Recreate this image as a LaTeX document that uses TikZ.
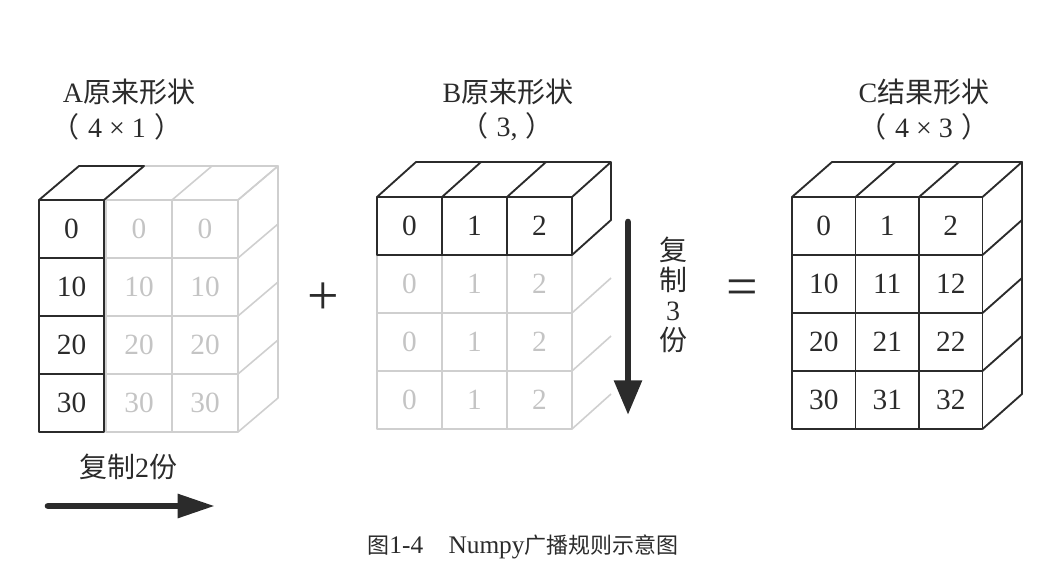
\documentclass[tikz,border=0pt]{standalone}
\usepackage{fontspec}
\setmainfont{Liberation Serif}
\newfontfamily\cjk{Noto Sans CJK SC}
\usetikzlibrary{arrows.meta}
\definecolor{inkblack}{HTML}{2B2B2B}
\definecolor{ghost}{HTML}{CFCFCF}
\definecolor{ghosttext}{HTML}{C4C4C4}
\tikzset{
        solid face/.style={draw=inkblack, line width=1.4pt, line join=round},
        ghost face/.style={draw=ghost, line width=1.2pt, line join=round},
        num/.style={font=\fontsize{22}{22}\selectfont, text=inkblack},
        ghost num/.style={num, text=ghosttext},
        title/.style={font=\fontsize{21}{22.5}\selectfont, text=inkblack},
        big arrow/.style={draw=inkblack, line width=5pt, line cap=round},
}
\begin{document}
\begin{tikzpicture}[x=0.75pt, y=-0.75pt]
        \useasboundingbox (0,0) rectangle (1059,563);

        % A (4x1), copied twice
        \foreach \c in {1,2} {
                \foreach \r in {0,1,2,3} {
                        \draw[ghost face] (40+66*\c,200+58*\r) rectangle ++(66,58);
                }
        }
        \draw[ghost face] (104,200) -- (144,166) -- (278,166) -- (238,200);
        \draw[ghost face] (172,200) -- (212,166);
        \draw[ghost face] (238,200) -- (278,166) -- (278,398) -- (238,432);
        \foreach \r in {1,2,3} {
                \draw[ghost face] (238,200+58*\r) -- ++(40,-34);
        }
        \foreach \r in {0,1,2,3} {
                \draw[solid face] (39,200+58*\r) rectangle ++(65,58);
        }
        \draw[solid face] (39,200) -- (79,166) -- (144,166) -- (104,200);
        \foreach \r/\v in {0/0,1/10,2/20,3/30} {
                \node[num] (a-\r-0) at (71.5,229+58*\r) {\v};
                \node[ghost num] (a-\r-1) at (139,229+58*\r) {\v};
                \node[ghost num] (a-\r-2) at (205,229+58*\r) {\v};
        }

        % B (3,), copied three times
        \foreach \c in {0,1,2} {
                \foreach \r in {1,2,3} {
                        \draw[ghost face] (377+65*\c,197+58*\r) rectangle ++(65,58);
                }
        }
        \foreach \r in {2,3,4} {
                \draw[ghost face] (572,197+58*\r) -- ++(39,-35);
        }
        \foreach \c in {0,1,2} {
                \draw[solid face] (377+65*\c,197) rectangle ++(65,58);
        }
        \draw[solid face] (377,197) -- (416,162) -- (611,162) -- (611,220) -- (572,255);
        \draw[solid face] (442,197) -- (481,162) (507,197) -- (546,162) (572,197) -- (611,162);
        \foreach \c in {0,1,2} {
                \node[num] (b-0-\c) at (409.5+65*\c,226) {\c};
                \foreach \r in {1,2,3} {
                        \node[ghost num] (b-\r-\c) at (409.5+65*\c,226+58*\r) {\c};
                }
        }

        % C (4x3)
        \foreach \c in {0,1,2} {
                \foreach \r in {0,1,2,3} {
                        \draw[solid face] (792+63.5*\c,197+58*\r) rectangle ++(63.5,58);
                        \pgfmathtruncatemacro\v{10*\r+\c}
                        \node[num] (c-\r-\c) at (823.75+63.5*\c,226+58*\r) {\v};
                }
        }
        \draw[solid face] (792,197) -- (832,162) -- (1022,162) -- (982.5,197);
        \draw[solid face] (855.5,197) -- (895.5,162) (919,197) -- (959,162);
        \draw[solid face] (1022,162) -- (1022,394) -- (982.5,429);
        \foreach \r in {1,2,3} {
                \draw[solid face] (982.5,197+58*\r) -- ++(39.5,-35);
        }

        % titles
        \node[title] (a-title) at (129,92) {A{\cjk 原来形状}};
        \node[title] (a-shape) at (117,127) {{\cjk （}\hspace{0.3em}4\hspace{0.25em}×\hspace{0.25em}1\hspace{0.3em}{\cjk ）}};
        \node[title] (b-title) at (508,92) {B{\cjk 原来形状}};
        \node[title] (b-shape) at (507,127) {{\cjk （}\hspace{0.3em}3,\hspace{0.3em}{\cjk ）}};
        \node[title] (c-title) at (924,92) {C{\cjk 结果形状}};
        \node[title] (c-shape) at (924,127) {{\cjk （}\hspace{0.3em}4\hspace{0.25em}×\hspace{0.25em}3\hspace{0.3em}{\cjk ）}};

        \node[font=\fontsize{42}{42}\selectfont, text=inkblack] (plus) at (323,299) {+};
        \node[font=\fontsize{42}{42}\selectfont, text=inkblack] (equals) at (742,293) {=};

        % arrows
        \node[title] (copy-right) at (128,467) {{\cjk 复制}2{\cjk 份}};
        \coordinate (right-from) at (48,506);
        \coordinate (right-to) at (215,506);
        \draw[big arrow, -{Triangle[length=28pt,width=17pt]}] (right-from) -- (right-to);
        \node[title, align=center] (copy-down) at (673,295) {{\cjk 复}\\{\cjk 制}\\3\\{\cjk 份}};
        \coordinate (down-from) at (628,222);
        \coordinate (down-to) at (628,415);
        \draw[big arrow, -{Triangle[length=26pt,width=20pt]}] (down-from) -- (down-to);

        \node[font=\fontsize{19}{22}\selectfont, text=inkblack] (caption) at (523,547)
                {{\cjk\fontsize{16.5}{18}\selectfont 图}1-4\hspace{1em}Numpy{\cjk\fontsize{16.5}{18}\selectfont 广播规则示意图}};
\end{tikzpicture}
\end{document}
